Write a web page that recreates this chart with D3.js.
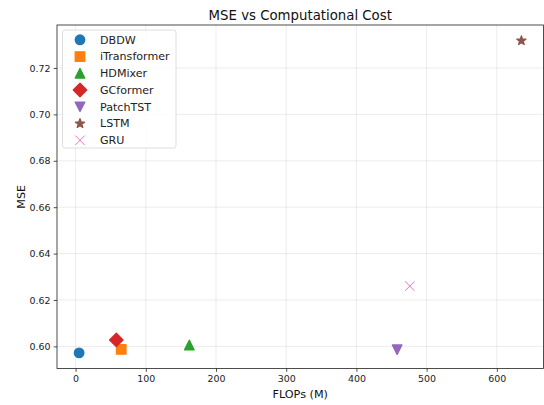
<!DOCTYPE html>
<html>
<head>
<meta charset="utf-8">
<script src="https://cdn.jsdelivr.net/npm/d3@7"></script>
<style>
  body { margin: 0; background: #fff; }
  svg { display: block; font-family: "DejaVu Sans", sans-serif; }
</style>
</head>
<body>
<div id="chart"></div>
<script>
// values
const models = ["DBDW", "iTransformer", "HDMixer", "GCformer", "PatchTST", "LSTM", "GRU"];
const flops = [5, 65, 162, 58, 458, 635, 476];
const mse = [0.5972, 0.5987, 0.6006, 0.6028, 0.5986, 0.7318, 0.6260];
const xTicks = [0, 100, 200, 300, 400, 500, 600];
const yTicks = [0.60, 0.62, 0.64, 0.66, 0.68, 0.70, 0.72];
const colors = ["#1f77b4", "#ff7f0e", "#2ca02c", "#d62728", "#9467bd", "#8c564b", "#e377c2"];
const markers = ["circle", "square", "triangleUp", "diamond", "triangleDown", "star", "cross"];

// constants for plot design
const FRAME_WIDTH = 544;
const FRAME_HEIGHT = 405;
const MARGINS = {left: 57, right: 0.5, top: 25, bottom: 36.5};
const VIS_WIDTH = FRAME_WIDTH - MARGINS.left - MARGINS.right;
const VIS_HEIGHT = FRAME_HEIGHT - MARGINS.top - MARGINS.bottom;
const MARKER = 9.45;   // marker size in px
const EDGE = 1.4;      // marker edge width

// matplotlib-like marker shapes (size = markersize^2)
const SHAPES = {
  circle: {draw(ctx, size) { const r = Math.sqrt(size) / 2; ctx.moveTo(r, 0); ctx.arc(0, 0, r, 0, 2 * Math.PI); }},
  square: {draw(ctx, size) { const r = Math.sqrt(size) / 2; ctx.rect(-r, -r, 2 * r, 2 * r); }},
  triangleUp: {draw(ctx, size) { const r = Math.sqrt(size) / 2; ctx.moveTo(0, -r); ctx.lineTo(r, r); ctx.lineTo(-r, r); ctx.closePath(); }},
  triangleDown: {draw(ctx, size) { const r = Math.sqrt(size) / 2; ctx.moveTo(0, r); ctx.lineTo(r, -r); ctx.lineTo(-r, -r); ctx.closePath(); }},
  diamond: {draw(ctx, size) { const r = Math.sqrt(size) / 2 * Math.SQRT2; ctx.moveTo(0, -r); ctx.lineTo(r, 0); ctx.lineTo(0, r); ctx.lineTo(-r, 0); ctx.closePath(); }},
  star: {draw(ctx, size) {
    const R = Math.sqrt(size) / 2, ri = R * 0.381966;
    for (let i = 0; i < 10; i++) {
      const rad = i % 2 ? ri : R, a = -Math.PI / 2 + i * Math.PI / 5;
      i ? ctx.lineTo(rad * Math.cos(a), rad * Math.sin(a)) : ctx.moveTo(rad * Math.cos(a), rad * Math.sin(a));
    }
    ctx.closePath();
  }},
  cross: {draw(ctx, size) { const r = Math.sqrt(size) / 2; ctx.moveTo(-r, -r); ctx.lineTo(r, r); ctx.moveTo(-r, r); ctx.lineTo(r, -r); }}
};

function drawMarker(sel, i) {
  const open = markers[i] === "cross";
  sel.attr("d", d3.symbol().type(SHAPES[markers[i]]).size(MARKER * MARKER)())
     .attr("fill", open ? "none" : colors[i])
     .attr("stroke", colors[i])
     .attr("stroke-width", open ? 1 : EDGE)
     .attr("stroke-linejoin", "round");
}

// 5% padding around the data, like matplotlib autoscale
const xPad = (d3.max(flops) - d3.min(flops)) * 0.05;
const yPad = (d3.max(mse) - d3.min(mse)) * 0.05;

const xScale = d3.scaleLinear()
  .domain([d3.min(flops) - xPad, d3.max(flops) + xPad])
  .range([0, VIS_WIDTH]);

const yScale = d3.scaleLinear()
  .domain([d3.min(mse) - yPad, d3.max(mse) + yPad])
  .range([VIS_HEIGHT, 0]);

const svg = d3.select("#chart")
  .append("svg")
    .attr("width", FRAME_WIDTH)
    .attr("height", FRAME_HEIGHT);

const plot = svg.append("g")
  .attr("transform", "translate(" + MARGINS.left + "," + MARGINS.top + ")");

// grid
plot.append("g")
  .selectAll("line.vx")
  .data(xTicks)
  .join("line")
    .attr("x1", d => xScale(d)).attr("x2", d => xScale(d))
    .attr("y1", 0).attr("y2", VIS_HEIGHT)
    .attr("stroke", "#b0b0b0").attr("stroke-opacity", 0.3).attr("stroke-width", 0.8);

plot.append("g")
  .selectAll("line.hy")
  .data(yTicks)
  .join("line")
    .attr("x1", 0).attr("x2", VIS_WIDTH)
    .attr("y1", d => yScale(d)).attr("y2", d => yScale(d))
    .attr("stroke", "#b0b0b0").attr("stroke-opacity", 0.3).attr("stroke-width", 0.8);

// axes
const xAxis = plot.append("g")
  .attr("transform", "translate(0," + VIS_HEIGHT + ")")
  .call(d3.axisBottom(xScale).tickValues(xTicks).tickSize(3.3).tickPadding(3.3).tickSizeOuter(0));

const yAxis = plot.append("g")
  .call(d3.axisLeft(yScale).tickValues(yTicks).tickFormat(d3.format(".2f")).tickSize(3.3).tickPadding(3.3).tickSizeOuter(0));

[xAxis, yAxis].forEach(ax => {
  ax.select(".domain").remove();
  ax.selectAll("line").attr("stroke", "#222").attr("stroke-width", 0.8);
  ax.selectAll("text").attr("fill", "#222").attr("font-size", "9.45px")
    .attr("font-family", "DejaVu Sans, sans-serif");
});

// frame
plot.append("rect")
  .attr("width", VIS_WIDTH).attr("height", VIS_HEIGHT)
  .attr("fill", "none").attr("stroke", "#222").attr("stroke-width", 0.8);

// points
plot.append("g")
  .selectAll("path")
  .data(models)
  .join("path")
    .attr("transform", (d, i) => "translate(" + xScale(flops[i]) + "," + yScale(mse[i]) + ")")
    .each(function(d, i) { drawMarker(d3.select(this), i); });

// titles
svg.append("text")
  .attr("x", MARGINS.left + VIS_WIDTH / 2).attr("y", 19.5)
  .attr("text-anchor", "middle").attr("font-size", "13.3px").attr("fill", "#111")
  .text("MSE vs Computational Cost");

svg.append("text")
  .attr("x", MARGINS.left + VIS_WIDTH / 2).attr("y", 398)
  .attr("text-anchor", "middle").attr("font-size", "11.2px").attr("fill", "#111")
  .text("FLOPs (M)");

svg.append("text")
  .attr("transform", "translate(25," + (MARGINS.top + VIS_HEIGHT / 2) + ") rotate(-90)")
  .attr("text-anchor", "middle").attr("font-size", "11.2px").attr("fill", "#111")
  .text("MSE");

// legend
const legend = svg.append("g").attr("transform", "translate(62.5,30)");
legend.append("rect")
  .attr("width", 113.5).attr("height", 118).attr("rx", 2.5)
  .attr("fill", "#fff").attr("fill-opacity", 0.8)
  .attr("stroke", "#d6d6d6").attr("stroke-width", 0.8);

const rows = legend.selectAll("g.row")
  .data(models)
  .join("g")
    .attr("transform", (d, i) => "translate(0," + (9.8 + i * 16.75) + ")");

rows.append("path")
  .attr("transform", "translate(17.5,0)")
  .each(function(d, i) { drawMarker(d3.select(this), i); });

rows.append("text")
  .attr("x", 37.5).attr("dy", "0.35em")
  .attr("font-size", "11.1px").attr("fill", "#222")
  .text(d => d);
</script>
</body>
</html>
